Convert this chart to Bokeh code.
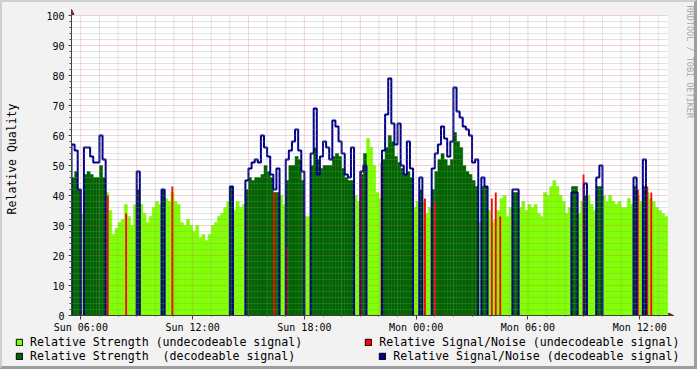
import math
import numpy as np
from bokeh.plotting import figure
from bokeh.layouts import column
from bokeh.models import (Range1d, FixedTicker, Legend, LegendItem, Label, Arrow, NormalHead,
                          BoxAnnotation)
from bokeh.embed import file_html
from bokeh.resources import INLINE

# ---------------- data ----------------
start_hour = 5.5          # Sun 05:30 (hours since Sun 00:00)
end_hour = 37.5           # Mon 13:30
step_hours = 1.0 / 6.0    # 10 minute steps

strength = [
    46, 48, 42, 34, 47, 48, 47, 46, 46, 50, 46, 41, 35, 27, 29, 31, 32, 37, 33, 30,
    37, 42, 37, 34, 31, 33, 36, 38, 37, 42, 39, 38, 41, 38, 37, 31, 30, 32, 30, 28,
    30, 26, 27, 25, 27, 30, 31, 33, 34, 36, 38, 43, 35, 38, 36, 37, 42, 46, 45, 46,
    46, 47, 50, 48, 46, 41, 41, 40, 37, 45, 50, 50, 53, 52, 45, 33, 33, 50, 56, 52,
    49, 50, 50, 50, 53, 54, 53, 49, 46, 45, 45, 40, 38, 47, 54, 59, 56, 50, 41, 39,
    52, 56, 60, 58, 53, 51, 49, 47, 48, 46, 36, 38, 42, 38, 34, 36, 42, 48, 52, 54,
    52, 50, 52, 61, 58, 56, 50, 48, 47, 45, 43, 31, 43, 43, 35, 31, 32, 35, 39, 40,
    33, 36, 41, 41, 36, 38, 35, 37, 36, 37, 34, 33, 41, 40, 43, 45, 43, 40, 38, 34,
    36, 43, 43, 34, 38, 40, 40, 37, 35, 43, 43, 40, 38, 40, 38, 37, 38, 36, 36, 39,
    37, 43, 40, 38, 43, 41, 39, 38, 36, 35, 34, 33,
]

N = None
snr_decodeable = [
    57, 55, 42, N, 56, 56, 53, 51, 51, 60, 52, N, N, N, N, N, N, N, N, N,
    N, 48, N, N, N, N, N, N, N, 42, N, N, N, N, N, N, N, N, N, N,
    N, N, N, N, N, N, N, N, N, N, N, 43, N, N, N, N, 45, 49, 51, 52,
    51, 60, 56, 53, 47, 42, 49, N, N, 52, 55, 58, 62, 55, 48, N, N, 54, 69, 47,
    53, 58, 56, 52, 65, 63, 58, 54, 47, 46, 56, N, N, 48, 50, N, N, N, N, N,
    55, 67, 79, 64, 57, 64, 50, 47, 58, 49, N, N, 46, N, N, N, 49, 54, 57, 63,
    59, 53, 58, 76, 68, 66, 63, 62, 60, 51, 52, N, 46, 43, N, N, N, N, N, N,
    N, N, 42, 42, N, N, N, N, N, N, N, N, N, N, N, N, N, N, N, N,
    N, 41, 41, N, N, 44, N, N, N, 46, 50, N, N, N, N, N, N, N, N, N,
    N, 46, N, N, 52, N, N, N, N, N, N, N,
]

snr_undecodeable_hours = [7.447, 8.433, 10.913, 16.38, 17.047, 21.036, 22.14, 24.471,
                          25.004, 28.06, 28.273, 28.513, 32.983, 35.9, 36.407, 36.62]
snr_undecodeable_values = [40, 34, 43, 41, 23, 48, 51, 39, 38, 39, 41, 33, 47, 42, 43, 41]

x_tick_hours = [6, 12, 18, 24, 30, 36]
x_tick_labels = ["Sun 06:00", "Sun 12:00", "Sun 18:00", "Mon 00:00", "Mon 06:00", "Mon 12:00"]
y_ticks = list(range(0, 101, 10))

legend_labels = ["Relative Strength (undecodeable signal)",
                 "Relative Strength  (decodeable signal)",
                 "Relative Signal/Noise (undecodeable signal)",
                 "Relative Signal/Noise (decodeable signal)"]

# ---------------- style ----------------
C_LIGHT = "#80ff00"
C_DARK = "#006400"
C_RED = "#ff0000"
C_BLUE = "#00008b"
FONT = "DejaVu Sans Mono"
AX = "#404040"
ARROW = "#801f1f"
BACK = "#f2f2f2"
PX_PER_HOUR = 18.75
PX_PER_UNIT = 3.0

n = len(strength)
left = [start_hour + i * step_hours for i in range(n)]
right = [l + step_hours for l in left]

und_idx = [i for i in range(n) if snr_decodeable[i] is None]
dec_idx = [i for i in range(n) if snr_decodeable[i] is not None]

# frame spans to the right/top edge so the arrows & watermark can be drawn inside it
x_end_view = start_hour + 627 / PX_PER_HOUR
y_end_view = 313 / PX_PER_UNIT

p = figure(width=692, height=333, x_range=Range1d(start_hour, x_end_view),
           y_range=Range1d(0, y_end_view),
           output_backend="svg", toolbar_location=None,
           min_border_left=65, min_border_right=0, min_border_top=0, min_border_bottom=20,
           background_fill_color=BACK, border_fill_color=BACK)
p.outline_line_color = None

# white canvas of the graph
p.add_layout(BoxAnnotation(left=start_hour, right=end_hour, bottom=0, top=100,
                           fill_color="white", fill_alpha=1, line_color=None, level="underlay"))

# areas
p.quad(left=[left[i] for i in und_idx], right=[right[i] for i in und_idx], bottom=0,
       top=[strength[i] for i in und_idx], fill_color=C_LIGHT, line_color=C_LIGHT, line_width=0.5)
p.quad(left=[left[i] for i in dec_idx], right=[right[i] for i in dec_idx], bottom=0,
       top=[strength[i] for i in dec_idx], fill_color=C_DARK, line_color=C_DARK, line_width=0.5)
p.vbar(x=snr_undecodeable_hours, top=snr_undecodeable_values, bottom=0, width=0.1,
       fill_color=C_RED, line_color=None)

# blue outline of decodeable S/N
bx, by = [], []
i = 0
while i < n:
    if snr_decodeable[i] is None:
        i += 1
        continue
    j = i
    bx.append(left[i]); by.append(0)
    while j < n and snr_decodeable[j] is not None:
        bx += [left[j], right[j]]
        by += [snr_decodeable[j], snr_decodeable[j]]
        j += 1
    bx.append(right[j - 1]); by.append(0)
    bx.append(np.nan); by.append(np.nan)
    i = j
p.line(bx, by, line_color=C_BLUE, line_width=2)

# grids (drawn over the data, limited to the graph canvas)
hours_all = list(range(6, 38))
x_major_grid = [h for h in hours_all if h % 3 == 0]
x_minor_grid = [h for h in hours_all if h % 3 != 0]
y_major_grid = y_ticks[1:]
y_minor_grid = [v for v in range(2, 101, 2) if v % 10 != 0]
MAJ, MAJ_A = "#de4f4f", 0.5
MIN, MIN_A = "#8f8f8f", 0.5

p.xgrid.visible = False
p.ygrid.visible = False
for xs, col, a in ((x_minor_grid, MIN, MIN_A), (x_major_grid, MAJ, MAJ_A)):
    p.segment(x0=xs, y0=0, x1=xs, y1=100, line_color=col, line_alpha=a, line_dash="1 1",
              level="annotation")
for ys, col, a in ((y_minor_grid, MIN, MIN_A), (y_major_grid, MAJ, MAJ_A)):
    p.segment(x0=start_hour, y0=ys, x1=end_hour, y1=ys, line_color=col, line_alpha=a,
              line_dash="1 1", level="annotation")

# axes
x_arrow_tip = end_hour + 6 / PX_PER_HOUR
y_arrow_tip = 102
xa = p.xaxis[0]
xa.ticker = FixedTicker(ticks=x_tick_hours, minor_ticks=hours_all)
xa.major_label_overrides = {h: lab for h, lab in zip(x_tick_hours, x_tick_labels)}
xa.bounds = (start_hour, x_arrow_tip)
ya = p.yaxis[0]
ya.ticker = FixedTicker(ticks=y_ticks, minor_ticks=list(range(0, 101, 2)))
ya.bounds = (0, y_arrow_tip)
for ax in (xa, ya):
    ax.axis_line_color = AX
    ax.major_tick_line_color = AX
    ax.minor_tick_line_color = AX
    ax.major_tick_in = 0
    ax.minor_tick_in = 0
    ax.major_label_text_font = FONT
    ax.major_label_text_font_size = "10px"
    ax.major_label_text_color = "black"
xa.major_tick_out = 4
xa.minor_tick_out = 1
xa.major_label_standoff = 2
ya.major_tick_out = 3
ya.minor_tick_out = 2
ya.major_label_standoff = 4
ya.axis_label = "Relative Quality"
ya.axis_label_text_font = FONT
ya.axis_label_text_font_size = "11.5px"
ya.axis_label_text_font_style = "normal"
ya.axis_label_text_color = "black"
ya.axis_label_standoff = 24

# axis arrows
p.add_layout(Arrow(x_start=start_hour, y_start=100, x_end=start_hour, y_end=y_arrow_tip,
                   line_color=AX, line_width=1,
                   end=NormalHead(size=5, fill_color=ARROW, line_color=ARROW)))
p.add_layout(Arrow(x_start=end_hour, y_start=0, x_end=x_arrow_tip, y_end=0,
                   line_color=AX, line_width=1,
                   end=NormalHead(size=5, fill_color=ARROW, line_color=ARROW)))

# watermark
p.add_layout(Label(x=start_hour + 622 / PX_PER_HOUR, y=310 / PX_PER_UNIT,
                   text="RRDTOOL / TOBI OETIKER",
                   angle=-math.pi / 2, text_align="left", text_baseline="middle",
                   text_font=FONT, text_font_size="8.5px", text_color="#a8a8a8"))

# ---------------- legend strip ----------------
lp = figure(width=692, height=31, x_range=Range1d(0, 692), y_range=Range1d(0, 31),
            output_backend="svg", toolbar_location=None,
            x_axis_location=None, y_axis_location=None,
            min_border_left=0, min_border_right=0, min_border_top=0, min_border_bottom=0,
            background_fill_color=BACK, border_fill_color=BACK)
lp.outline_line_color = None
lp.grid.visible = False
try:
    p.frame_align = False
    lp.frame_align = False
except AttributeError:
    pass
colors = [C_LIGHT, C_DARK, C_RED, C_BLUE]
# legend swatch renderers (placed outside the visible strip)
dummies = [lp.quad(left=[-20], right=[-10], bottom=[-20], top=[-10], fill_color=c,
                   line_color="black", line_width=1) for c in colors]

def make_legend(items, loc, spacing):
    lg = Legend(items=items, location=loc, orientation="horizontal",
                border_line_color=None, background_fill_alpha=0, padding=0, margin=0,
                spacing=spacing, glyph_width=8, glyph_height=8, label_height=14,
                label_standoff=7, label_text_font=FONT, label_text_font_size="11.6px",
                label_text_color="black")
    lp.add_layout(lg)

make_legend([LegendItem(label=legend_labels[0], renderers=[dummies[0]]),
             LegendItem(label=legend_labels[2], renderers=[dummies[2]])], (13, 17), 62)
make_legend([LegendItem(label=legend_labels[1], renderers=[dummies[1]]),
             LegendItem(label=legend_labels[3], renderers=[dummies[3]])], (13, 3), 83)

layout = column(p, lp, spacing=0,
                styles={"border-top": "2px solid #cfcfcf", "border-left": "2px solid #cfcfcf",
                        "border-right": "3px solid #9e9e9e", "border-bottom": "3px solid #9e9e9e",
                        "background-color": BACK})

open("out.html", "w").write(file_html(layout, INLINE))
